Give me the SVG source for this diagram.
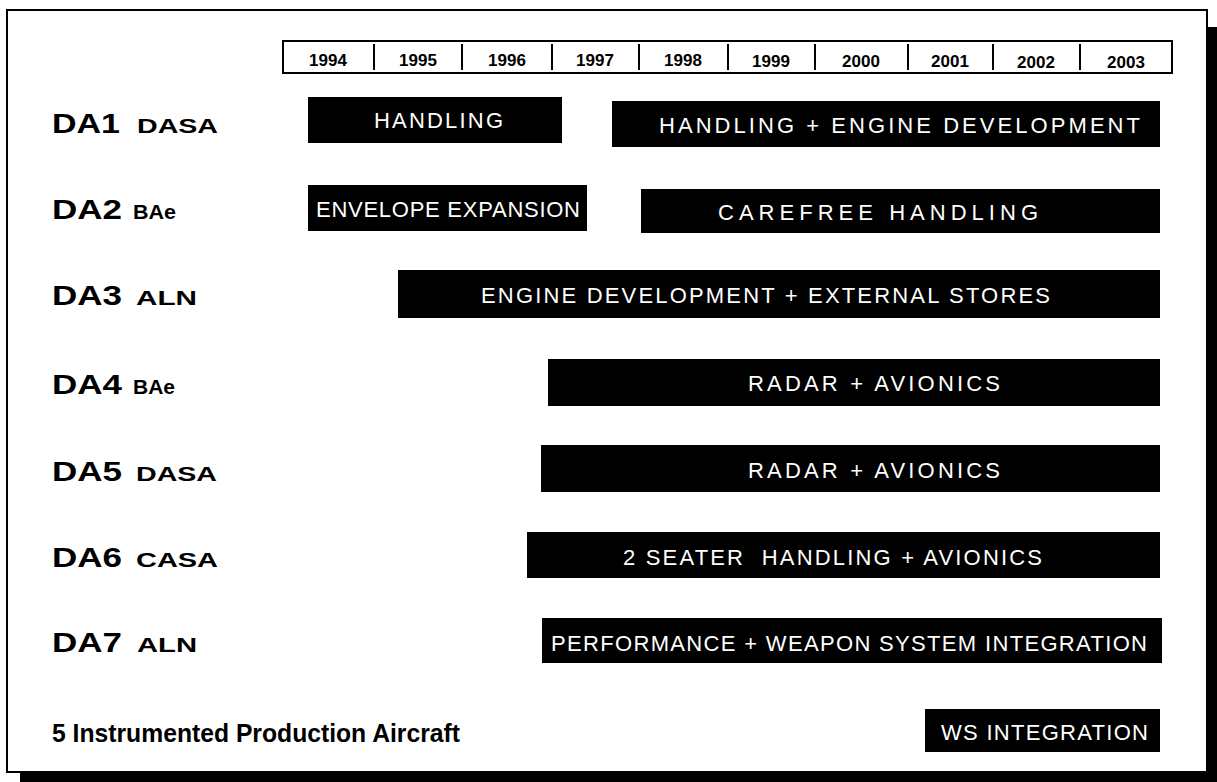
<svg xmlns="http://www.w3.org/2000/svg" width="1217" height="782" viewBox="0 0 1217 782">
<style>
.bar{fill:#000}
.bt{fill:#fff;font-family:"Liberation Sans",Arial,sans-serif;font-size:22px}
.yr{fill:#000;font-family:"Liberation Sans",Arial,sans-serif;font-weight:bold;font-size:17px;text-anchor:middle}
.big{fill:#000;font-family:"Liberation Sans",Arial,sans-serif;font-weight:bold;font-size:28px}
.sm{fill:#000;font-family:"Liberation Sans",Arial,sans-serif;font-weight:bold;font-size:20px}
.div{stroke:#000;stroke-width:2}
</style>
<rect width="1217" height="782" fill="#fff"/>
<g id="frame">
<rect x="1207" y="27" width="10" height="755" fill="#000"/>
<rect x="20" y="772" width="1197" height="10" fill="#000"/>
<rect x="7" y="10" width="1200" height="762" fill="#fff" stroke="#000" stroke-width="2"/>
</g>
<g id="timeline">
<rect x="283" y="41" width="889" height="32" fill="#fff" stroke="#000" stroke-width="2"/>
<line class="div" x1="374" y1="44" x2="374" y2="70"/>
<line class="div" x1="462" y1="44" x2="462" y2="70"/>
<line class="div" x1="552" y1="44" x2="552" y2="70"/>
<line class="div" x1="639" y1="44" x2="639" y2="70"/>
<line class="div" x1="728" y1="44" x2="728" y2="70"/>
<line class="div" x1="815" y1="44" x2="815" y2="70"/>
<line class="div" x1="908" y1="44" x2="908" y2="70"/>
<line class="div" x1="993" y1="44" x2="993" y2="70"/>
<line class="div" x1="1080" y1="44" x2="1080" y2="70"/>
<text class="yr" x="328" y="66">1994</text>
<text class="yr" x="418" y="66">1995</text>
<text class="yr" x="507" y="66">1996</text>
<text class="yr" x="595" y="66">1997</text>
<text class="yr" x="683" y="66">1998</text>
<text class="yr" x="771" y="67">1999</text>
<text class="yr" x="861" y="67">2000</text>
<text class="yr" x="950" y="67">2001</text>
<text class="yr" x="1036" y="68">2002</text>
<text class="yr" x="1126" y="68">2003</text>
</g>
<g id="labels">
<text class="big" x="52" y="133" textLength="68" lengthAdjust="spacingAndGlyphs">DA1</text><text class="sm" x="137" y="133" textLength="81" lengthAdjust="spacingAndGlyphs">DASA</text>
<text class="big" x="52" y="219" textLength="70" lengthAdjust="spacingAndGlyphs">DA2</text><text class="sm" x="133" y="219" textLength="43" lengthAdjust="spacingAndGlyphs">BAe</text>
<text class="big" x="52" y="305" textLength="70" lengthAdjust="spacingAndGlyphs">DA3</text><text class="sm" x="136" y="305" textLength="61" lengthAdjust="spacingAndGlyphs">ALN</text>
<text class="big" x="52" y="394" textLength="70" lengthAdjust="spacingAndGlyphs">DA4</text><text class="sm" x="133" y="394" textLength="42" lengthAdjust="spacingAndGlyphs">BAe</text>
<text class="big" x="52" y="481" textLength="70" lengthAdjust="spacingAndGlyphs">DA5</text><text class="sm" x="136" y="481" textLength="81" lengthAdjust="spacingAndGlyphs">DASA</text>
<text class="big" x="52" y="567" textLength="70" lengthAdjust="spacingAndGlyphs">DA6</text><text class="sm" x="136" y="567" textLength="82" lengthAdjust="spacingAndGlyphs">CASA</text>
<text class="big" x="52" y="652" textLength="70" lengthAdjust="spacingAndGlyphs">DA7</text><text class="sm" x="137" y="652" textLength="60" lengthAdjust="spacingAndGlyphs">ALN</text>
<text class="big" x="52" y="742" style="font-size:26px" textLength="408" lengthAdjust="spacingAndGlyphs">5 Instrumented Production Aircraft</text>
</g>
<g id="bar-da1-a"><rect class="bar" x="308" y="97" width="254" height="46"/><text class="bt" x="374" y="128" textLength="129" lengthAdjust="spacing">HANDLING</text></g>
<g id="bar-da1-b"><rect class="bar" x="612" y="101" width="548" height="46"/><text class="bt" x="659" y="133" textLength="481" lengthAdjust="spacing">HANDLING + ENGINE DEVELOPMENT</text></g>
<g id="bar-da2-a"><rect class="bar" x="308" y="185" width="279" height="46"/><text class="bt" x="316" y="217" textLength="264" lengthAdjust="spacing">ENVELOPE EXPANSION</text></g>
<g id="bar-da2-b"><rect class="bar" x="641" y="189" width="519" height="44"/><text class="bt" x="718" y="220" textLength="320" lengthAdjust="spacing">CAREFREE HANDLING</text></g>
<g id="bar-da3"><rect class="bar" x="398" y="270" width="762" height="48"/><text class="bt" x="481" y="303" textLength="569" lengthAdjust="spacing">ENGINE DEVELOPMENT + EXTERNAL STORES</text></g>
<g id="bar-da4"><rect class="bar" x="548" y="359" width="612" height="47"/><text class="bt" x="748" y="391" textLength="252" lengthAdjust="spacing">RADAR + AVIONICS</text></g>
<g id="bar-da5"><rect class="bar" x="541" y="445" width="619" height="47"/><text class="bt" x="748" y="478" textLength="252" lengthAdjust="spacing">RADAR + AVIONICS</text></g>
<g id="bar-da6"><rect class="bar" x="527" y="532" width="633" height="46"/><text class="bt" x="623" y="565" textLength="419" lengthAdjust="spacing" xml:space="preserve">2 SEATER  HANDLING + AVIONICS</text></g>
<g id="bar-da7"><rect class="bar" x="542" y="618" width="620" height="45"/><text class="bt" x="551" y="651" textLength="596" lengthAdjust="spacing">PERFORMANCE + WEAPON SYSTEM INTEGRATION</text></g>
<g id="bar-ws"><rect class="bar" x="925" y="709" width="235" height="43"/><text class="bt" x="941" y="740" textLength="207" lengthAdjust="spacing">WS INTEGRATION</text></g>
<g id="connectors"/>
</svg>
